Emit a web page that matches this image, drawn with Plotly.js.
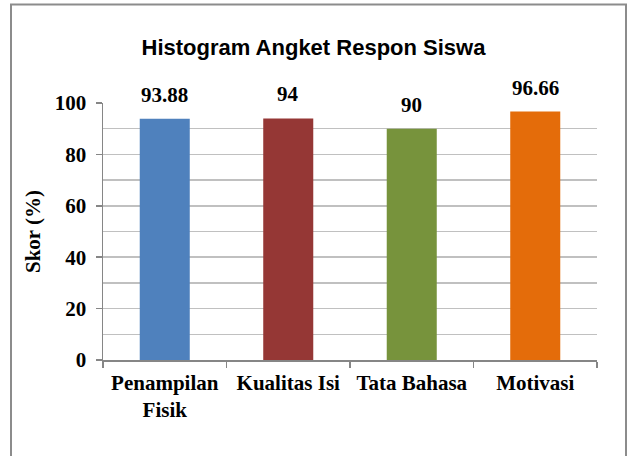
<!DOCTYPE html>
<html>
<head>
<meta charset="utf-8">
<script src="https://cdn.plot.ly/plotly-3.0.1.min.js"></script>
<style>
html, body { margin: 0; padding: 0; background: #ffffff; overflow: hidden; }
#chart { width: 627px; height: 456px; }
</style>
</head>
<body>
<div id="chart"></div>
<script>
var categories = ["Penampilan<br>Fisik", "Kualitas Isi", "Tata Bahasa", "Motivasi"];
var values = [93.88, 94, 90, 96.66];
var valueLabels = ["93.88", "94", "90", "96.66"];
var barColors = ["#4F81BD", "#953735", "#77933C", "#E46C0A"];
var yTickValues = [0, 20, 40, 60, 80, 100];

var serif = "'Liberation Serif', 'Times New Roman', serif";
var axisGray = "#868686";
var gridGray = "#c0c0c0";

var trace = {
  type: "bar",
  x: categories,
  y: values,
  marker: { color: barColors, line: { width: 0 } },
  hoverinfo: "skip"
};

var annotations = categories.map(function (c, i) {
  return {
    x: c, y: values[i], xref: "x", yref: "y",
    text: "<b>" + valueLabels[i] + "</b>", showarrow: false,
    yanchor: "bottom", yshift: 10,
    font: { family: serif, size: 21, color: "#000000", weight: "bold" }
  };
});

var layout = {
  width: 627, height: 456,
  margin: { l: 103, r: 30, t: 103, b: 96 },
  paper_bgcolor: "#ffffff",
  plot_bgcolor: "#ffffff",
  showlegend: false,
  bargap: 0.595,
  title: {
    text: "<b>Histogram Angket Respon Siswa</b>",
    font: { family: "'Liberation Sans', Arial, sans-serif", size: 22, color: "#000000", weight: "bold" },
    x: 0.5, xanchor: "center", xref: "container",
    y: 1 - 47 / 456, yanchor: "middle", yref: "container"
  },
  xaxis: {
    type: "category",
    showline: true, linecolor: axisGray, linewidth: 1.5,
    ticks: "outside", tickson: "boundaries", ticklen: 6, tickcolor: axisGray, tickwidth: 1.5,
    showgrid: false, zeroline: false,
    tickfont: { family: serif, size: 21, color: "#000000", weight: "bold" },
    ticklabelstandoff: 3
  },
  yaxis: {
    range: [0, 100],
    tickvals: yTickValues,
    ticktext: yTickValues.map(function (v) { return "<b>" + v + "</b>"; }),
    showline: true, linecolor: axisGray, linewidth: 1.5,
    ticks: "outside", ticklen: 6, tickcolor: axisGray, tickwidth: 1.5,
    showgrid: true, gridcolor: gridGray, gridwidth: 1.5,
    minor: { dtick: 10, tick0: 0, showgrid: true, gridcolor: gridGray, gridwidth: 1.5, ticks: "" },
    zeroline: false,
    tickfont: { family: serif, size: 21, color: "#000000", weight: "bold" },
    ticklabelstandoff: 5,
    title: {
      text: "<b>Skor (%)</b>",
      font: { family: serif, size: 21, color: "#000000", weight: "bold" },
      standoff: 8
    }
  },
  annotations: annotations,
  shapes: [{
    type: "rect", xref: "paper", yref: "paper",
    x0: (11 - 103) / 494, x1: (626 - 103) / 494,
    y0: (360 - 470) / 257, y1: (360 - 4.5) / 257,
    line: { color: "#8c8c8c", width: 2 },
    fillcolor: "rgba(0,0,0,0)",
    layer: "below"
  }]
};

Plotly.newPlot("chart", [trace], layout, { staticPlot: true, displayModeBar: false });
</script>
</body>
</html>
